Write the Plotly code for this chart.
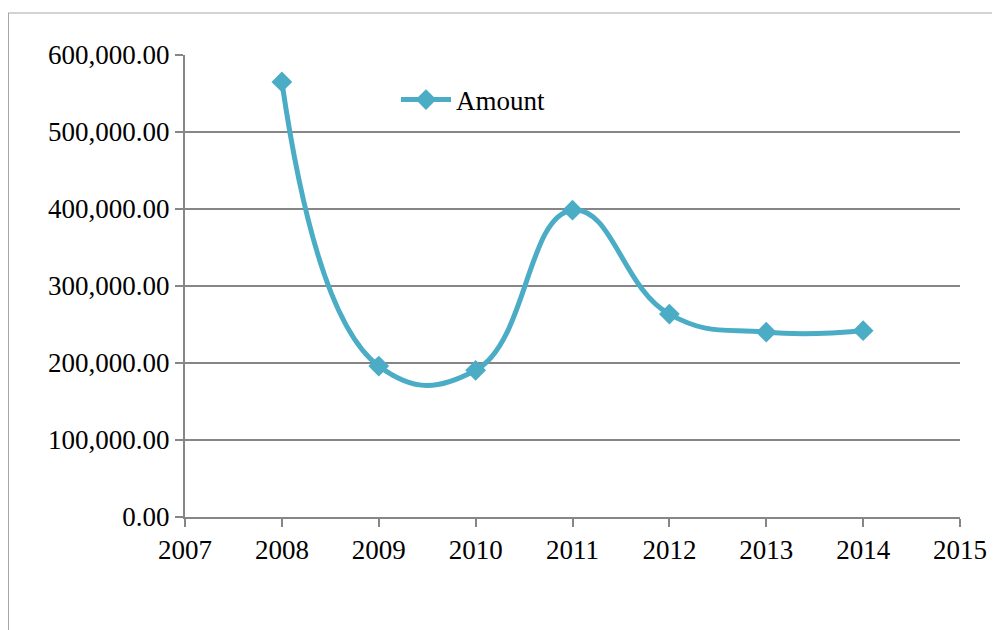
import plotly.graph_objects as go

years = [2008, 2009, 2010, 2011, 2012, 2013, 2014]
amount = [565000, 196000, 190500, 398500, 263500, 240000, 242000]
series_name = "Amount"

W, H = 1000, 630
OFF = 8  # page body margin offset
L, R, T, B = 185 - OFF, 40 + OFF, 55 - OFF, 113 + OFF
pw, ph = W - L - R, H - T - B

def px(x):
    return (x - OFF - L) / pw

def py(y):
    return (H - B - (y - OFF)) / ph

fig = go.Figure()
fig.add_trace(go.Scatter(
    x=years, y=amount, name=series_name,
    mode="lines+markers",
    line=dict(color="#4BACC6", width=5, shape="spline", smoothing=1.3),
    marker=dict(symbol="diamond", size=16, color="#4BACC6"),
    showlegend=True,
))

shapes = []
shapes.append(dict(type="line", xref="paper", yref="paper",
                   x0=px(7), x1=px(1010), y0=py(13), y1=py(13),
                   line=dict(color="#c4c4c4", width=1.5)))
shapes.append(dict(type="line", xref="paper", yref="paper",
                   x0=px(8), x1=px(8), y0=py(13), y1=py(640),
                   line=dict(color="#a6a6a6", width=2)))

fig.update_layout(
    width=W, height=H,
    margin=dict(l=L, r=R, t=T, b=B),
    paper_bgcolor="white", plot_bgcolor="white",
    font=dict(family="Liberation Serif", size=27, color="black"),
    shapes=shapes,
    legend=dict(x=px(396), y=py(100), xanchor="left", yanchor="middle",
                bgcolor="rgba(0,0,0,0)", font=dict(size=27), itemwidth=50),
    xaxis=dict(range=[2007, 2015], dtick=1, tick0=2007, tickformat="d",
               showgrid=False, zeroline=False,
               showline=True, linecolor="#868686", linewidth=2,
               ticks="outside", ticklen=8, tickwidth=2, tickcolor="#868686",
               tickfont=dict(size=27)),
    yaxis=dict(range=[0, 600000], dtick=100000, tickformat=",.2f",
               showgrid=True, gridcolor="#868686", gridwidth=2,
               zeroline=False,
               showline=True, linecolor="#868686", linewidth=2,
               ticks="outside", ticklen=8, tickwidth=2, tickcolor="#868686",
               tickfont=dict(size=27)),
)

fig.write_html("out.html")
